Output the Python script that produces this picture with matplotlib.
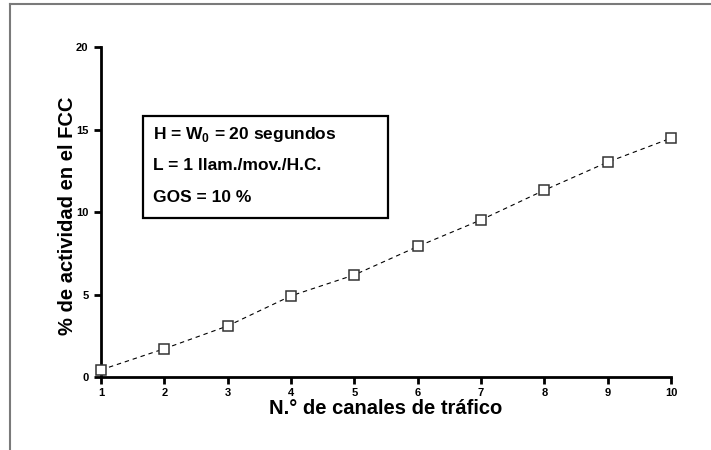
import matplotlib
matplotlib.use("Agg")
import matplotlib.pyplot as plt
from matplotlib.patches import Rectangle
from matplotlib.lines import Line2D

plt.rcParams['font.family'] = ['Liberation Sans', 'DejaVu Sans']
plt.rcParams['font.weight'] = 'bold'
plt.rcParams['mathtext.fontset'] = 'custom'
plt.rcParams['mathtext.rm'] = 'Liberation Sans:bold'
plt.rcParams['mathtext.bf'] = 'Liberation Sans:bold'

# data
canales = [1, 2, 3, 4, 5, 6, 7, 8, 9, 10]
actividad = [0.45, 1.73, 3.11, 4.93, 6.2, 7.92, 9.53, 11.33, 13.03, 14.48]
x_ticks = [1, 2, 3, 4, 5, 6, 7, 8, 9, 10]
y_ticks = [0, 5, 10, 15, 20]
info_lines = [r"H = W$_\mathbf{0}$ = 20 segundos",
              "L = 1 llam./mov./H.C.",
              "GOS = 10 %"]

fig = plt.figure(figsize=(7.11, 4.5), dpi=100)
ax = fig.add_axes([0.1421, 0.1616, 0.8017, 0.734])

ax.plot(canales, actividad, linestyle=(0, (4, 3.5)), color='black', linewidth=0.8,
        marker='s', markersize=6.8, markerfacecolor='white',
        markeredgecolor='#333333', markeredgewidth=1.1, clip_on=False, zorder=3)

ax.set_xlim(1, 10)
ax.set_ylim(0, 20)
ax.set_xticks(x_ticks)
ax.set_yticks(y_ticks)
ax.spines['top'].set_visible(False)
ax.spines['right'].set_visible(False)
for s in ('left', 'bottom'):
    ax.spines[s].set_linewidth(2)
ax.tick_params(direction='out', length=5, width=2, labelsize=8)
ax.tick_params(axis='x', pad=3)
ax.tick_params(axis='y', pad=4)
for lab in ax.get_xticklabels() + ax.get_yticklabels():
    lab.set_fontweight('bold')

ax.set_xlabel("N.° de canales de tráfico", fontsize=14.5, fontweight='bold')
ax.set_ylabel("% de actividad en el FCC", fontsize=14.5, fontweight='bold')
ax.xaxis.set_label_coords(0.5, -0.066)
ax.yaxis.set_label_coords(-0.042, 0.49)

# info box
W, H = 711.0, 450.0
fig.patches.append(Rectangle((143 / W, 1 - 218 / H), (388 - 143) / W, (218 - 116) / H,
                             transform=fig.transFigure, fill=False,
                             edgecolor='black', linewidth=1.6))
for i, txt in enumerate(info_lines):
    fig.text(153 / W, 1 - (135 + i * 31) / H, txt, fontsize=12.5, fontweight='bold',
             va='center', ha='left')

# outer frame (top and left only)
fig.lines.append(Line2D([10 / W, 10 / W], [0, 1 - 4 / H], transform=fig.transFigure,
                        color='#7a7a7a', linewidth=1.5))
fig.lines.append(Line2D([10 / W, 1], [1 - 4 / H, 1 - 4 / H], transform=fig.transFigure,
                        color='#7a7a7a', linewidth=1.5))

fig.savefig("out.png", dpi=100)
